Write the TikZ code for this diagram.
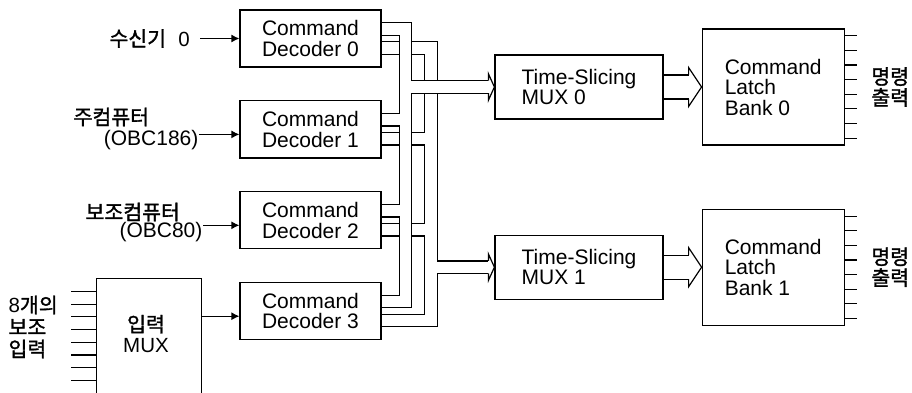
\documentclass[tikz,border=0pt]{standalone}
\usepackage{fontspec}
\setmainfont{Liberation Sans}
\newfontfamily\kr[FakeBold=1.5]{Noto Sans CJK KR}
\usetikzlibrary{arrows.meta,positioning,backgrounds}

\begin{document}
\begin{tikzpicture}[x=1pt, y=-1pt, >={Latex[length=8pt,width=8pt]}, line width=1.2pt,
    txt/.style={font=\fontsize{21}{20.5}\selectfont, inner sep=0pt, align=left},
    krtxt/.style={txt, font=\kr\fontsize{20.5}{21}\selectfont},
    decbox/.style={draw, txt, minimum width=141pt, minimum height=57pt},
    muxbox/.style={draw, txt, minimum width=168pt, minimum height=64pt},
    latchbox/.style={draw, txt, minimum width=142pt, minimum height=116pt},
    busouter/.style={line width=13.7pt},
    businner/.style={white, line width=11.3pt},
    wideouter/.style={line width=25.2pt},
    wideinner/.style={white, line width=22.8pt}]
  \useasboundingbox (0,0) rectangle (912,393);

  \node[decbox] (dec0) at (310.5,38.5) {Command\\Decoder 0};
  \node[decbox, below=32.7pt of dec0] (dec1) {Command\\Decoder 1};
  \node[decbox, below=32.7pt of dec1] (dec2) {Command\\Decoder 2};
  \node[decbox, below=32.7pt of dec2] (dec3) {Command\\Decoder 3};

  \node[muxbox] (mux0) at (579,87) {Time-Slicing\\MUX 0};
  \node[muxbox, below=115pt of mux0] (mux1) {Time-Slicing\\MUX 1};
  \node[latchbox, right=38pt of mux0] (latch0) {Command\\Latch\\Bank 0};
  \node[latchbox, right=38pt of mux1] (latch1) {Command\\Latch\\Bank 1};
  \node[krtxt, right=26pt of latch0] (out0) {명령\\출력};
  \node[krtxt, right=26pt of latch1] (out1) {명령\\출력};

  \node[krtxt, left=49pt of dec0] (rx0) {수신기\hspace{0.6em}{\rmfamily 0}};
  \node[krtxt, anchor=west] (mainpc) at (73,117) {주컴퓨터};
  \node[txt, anchor=east] (obc186) at (199,140) {(OBC186)};
  \node[krtxt, anchor=west] (subpc) at (85,212) {보조컴퓨터};
  \node[txt, anchor=east] (obc80) at (203,232) {(OBC80)};
  \node[krtxt, anchor=west, font=\kr\fontsize{20.5}{22}\selectfont] (auxin) at (8,327) {{\rmfamily 8}개의\\보조\\입력};

  \node[minimum width=104pt, minimum height=114pt] (inmux) at (149,336) {};
  \node[krtxt, align=center] (inmuxtxt) at (146,334) {입력\\{\rmfamily MUX}};
  \draw (inmux.south west) -- (inmux.north west) -- (inmux.north east) -- (inmux.south east);
  \foreach \i [evaluate=\i as \dy using -13-12.7*\i] in {0,...,7}
    \draw ([yshift=\dy pt]inmux.north west) -- ++(-25pt,0);

  \coordinate (d1in) at ([yshift=-5pt]dec1.west);
  \coordinate (d2in) at ([yshift=-5pt]dec2.west);
  \coordinate (d3in) at ([yshift=-5pt]dec3.west);
  \draw[->] ([xshift=10pt]rx0.east) -- (rx0.east -| dec0.west);
  \draw[->] (d1in -| obc186.east) -- (d1in);
  \draw[->] (d2in -| obc80.east) -- (d2in);
  \draw[->] (d3in -| inmux.east) -- (d3in);

  \coordinate (tA) at ([xshift=-89pt]mux0.west);
  \coordinate (tB) at ([xshift=-63.5pt]mux1.west);
  \begin{scope}[on background layer]
    \foreach \k in {0,...,3}
      \draw[busouter] ([yshift=-38.5pt]dec\k.north east) -| (tB) -- ([xshift=-6pt]mux1.west);
    \foreach \k in {0,...,3}
      \draw[businner] ([yshift=-38.5pt]dec\k.north east) -| (tB) -- ([xshift=-6pt]mux1.west);
    \foreach \k in {0,...,3}
      \draw[busouter] ([yshift=-19.5pt]dec\k.north east) -| (tA) -- ([xshift=-6pt]mux0.west);
    \foreach \k in {0,...,3}
      \draw[businner] ([yshift=-19.5pt]dec\k.north east) -| (tA) -- ([xshift=-6pt]mux0.west);
    \draw[wideouter] (mux0.east) -- ([xshift=-13pt]latch0.west);
    \draw[wideinner] (mux0.east) -- ([xshift=-13pt]latch0.west);
    \draw[wideouter] (mux1.east) -- ([xshift=-13pt]latch1.west);
    \draw[wideinner] (mux1.east) -- ([xshift=-13pt]latch1.west);
  \end{scope}

  \foreach \n/\l/\b/\h in {mux0/6/6.25/13.25, mux1/6/6.25/13.25, latch0/13/12/19.5, latch1/13/12/19.5}
    \draw ([shift={(-\l pt,\b pt)}]\n.west) -- ([shift={(-\l pt,\h pt)}]\n.west) -- (\n.west)
      -- ([shift={(-\l pt,-\h pt)}]\n.west) -- ([shift={(-\l pt,-\b pt)}]\n.west);

  \foreach \i [evaluate=\i as \dy using -7.5-14.6*\i] in {0,...,7} {
    \draw ([yshift=\dy pt]latch0.north east) -- ++(12pt,0);
    \draw ([yshift=\dy pt]latch1.north east) -- ++(12pt,0);
  }
\end{tikzpicture}
\end{document}
